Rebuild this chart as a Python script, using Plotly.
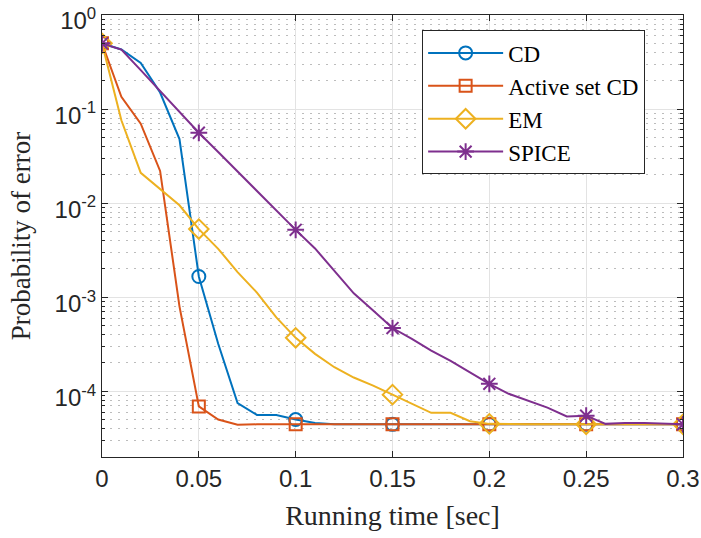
import plotly.graph_objects as go

time_s = [0.00, 0.01, 0.02, 0.03, 0.04, 0.05, 0.06, 0.07, 0.08, 0.09,
          0.10, 0.11, 0.12, 0.13, 0.14, 0.15, 0.16, 0.17, 0.18, 0.19,
          0.20, 0.21, 0.22, 0.23, 0.24, 0.25, 0.26, 0.27, 0.28, 0.29, 0.30]

cd = [0.5, 0.43, 0.31, 0.15, 0.048, 1.66e-3, 3.2e-4, 7.5e-5, 5.6e-5, 5.6e-5,
      5.0e-5, 4.6e-5, 4.45e-5, 4.45e-5, 4.45e-5, 4.45e-5, 4.45e-5, 4.45e-5, 4.45e-5, 4.45e-5,
      4.45e-5, 4.45e-5, 4.45e-5, 4.45e-5, 4.45e-5, 4.45e-5, 4.45e-5, 4.45e-5, 4.45e-5, 4.45e-5, 4.45e-5]

active_cd = [0.5, 0.135, 0.07, 0.022, 8.0e-4, 6.9e-5, 5.0e-5, 4.4e-5, 4.45e-5, 4.45e-5,
             4.45e-5, 4.45e-5, 4.45e-5, 4.45e-5, 4.45e-5, 4.45e-5, 4.45e-5, 4.45e-5, 4.45e-5, 4.45e-5,
             4.45e-5, 4.45e-5, 4.45e-5, 4.45e-5, 4.45e-5, 4.45e-5, 4.45e-5, 4.45e-5, 4.45e-5, 4.45e-5, 4.45e-5]

em = [0.5, 0.076, 0.021, 0.014, 9.5e-3, 5.3e-3, 3.27e-3, 1.85e-3, 1.12e-3, 6.1e-4,
      3.7e-4, 2.5e-4, 1.8e-4, 1.4e-4, 1.15e-4, 9.2e-5, 7.3e-5, 5.9e-5, 5.9e-5, 4.8e-5,
      4.5e-5, 4.45e-5, 4.45e-5, 4.45e-5, 4.45e-5, 4.45e-5, 4.45e-5, 4.45e-5, 4.45e-5, 4.45e-5, 4.45e-5]

spice = [0.5, 0.43, 0.26, 0.155, 0.093, 0.056, 0.035, 0.0216, 0.0135, 8.4e-3,
         5.2e-3, 3.3e-3, 1.9e-3, 1.1e-3, 7.2e-4, 4.7e-4, 3.6e-4, 2.7e-4, 2.1e-4, 1.6e-4,
         1.2e-4, 9.4e-5, 8.0e-5, 6.7e-5, 5.4e-5, 5.5e-5, 4.5e-5, 4.6e-5, 4.6e-5, 4.5e-5, 4.45e-5]

series_names = ["CD", "Active set CD", "EM", "SPICE"]
series_values = [cd, active_cd, em, spice]
colors = ["#0072BD", "#D95319", "#EDB120", "#7E2F8E"]
symbols = ["circle-open", "square-open", "diamond-open", "asterisk-open"]
marker_sizes = [13, 12, 15, 14]
marker_every = 5

x_ticks = [0, 0.05, 0.1, 0.15, 0.2, 0.25, 0.3]
x_tick_labels = ["0", "0.05", "0.1", "0.15", "0.2", "0.25", "0.3"]
y_ticks = [1e-4, 1e-3, 1e-2, 1e-1, 1]
y_tick_labels = ["10<sup>-4</sup>", "10<sup>-3</sup>", "10<sup>-2</sup>", "10<sup>-1</sup>", "10<sup>0</sup>"]
y_minor_ticks = [m * 10.0 ** e for e in range(-5, 0) for m in range(2, 10)]

fig = go.Figure()
for name, vals, c, sym, ms in zip(series_names, series_values, colors, symbols, marker_sizes):
    fig.add_trace(go.Scatter(x=time_s, y=vals, mode="lines", line=dict(color=c, width=2),
                             showlegend=False, hoverinfo="skip"))
    fig.add_trace(go.Scatter(x=time_s[::marker_every], y=vals[::marker_every], mode="markers",
                             marker=dict(symbol=sym, size=ms, color=c, line=dict(color=c, width=2)),
                             showlegend=False))
for name, c, sym, ms in zip(series_names, colors, symbols, marker_sizes):
    fig.add_trace(go.Scatter(x=[None], y=[None], mode="lines+markers", name=name,
                             line=dict(color=c, width=2),
                             marker=dict(symbol=sym, size=ms, color=c, line=dict(color=c, width=2))))

axis_color = "#262626"
fig.update_layout(
    width=701, height=538,
    margin=dict(l=102, r=18, t=15, b=81, autoexpand=False),
    paper_bgcolor="white", plot_bgcolor="white",
    font=dict(family="Liberation Sans, Arial", size=24, color=axis_color),
    showlegend=True,
    legend=dict(x=0.551, y=0.965, xanchor="left", yanchor="top",
                bgcolor="white", bordercolor=axis_color, borderwidth=1,
                font=dict(family="Liberation Serif, Times New Roman", size=23, color="black"),
                tracegroupgap=0, itemwidth=75),
    xaxis=dict(range=[0, 0.3], tickvals=x_ticks, ticktext=x_tick_labels,
               automargin=False,
               showgrid=True, gridcolor="#e3e3e3", gridwidth=1,
               showline=True, linecolor=axis_color, linewidth=1, mirror="ticks",
               ticks="inside", ticklen=6, tickcolor=axis_color,
               zeroline=False,
               title=dict(text="Running time [sec]", standoff=14,
                          font=dict(family="Liberation Serif, Times New Roman", size=28, color=axis_color))),
    yaxis=dict(type="log", range=[-4.699, 0.0005], tickvals=y_ticks, ticktext=y_tick_labels,
               ticklabeloverflow="allow", automargin=False, ticklabelshift=6,
               showgrid=True, gridcolor="#e3e3e3", gridwidth=1,
               showline=True, linecolor=axis_color, linewidth=1, mirror="ticks",
               ticks="inside", ticklen=6, tickcolor=axis_color,
               zeroline=False,
               minor=dict(tickvals=y_minor_ticks, showgrid=True, gridcolor="#bcbcbc",
                          griddash="2px,6px", gridwidth=1,
                          ticks="inside", ticklen=3, tickcolor=axis_color),
               title=dict(text="Probability of error", standoff=16,
                          font=dict(family="Liberation Serif, Times New Roman", size=27, color=axis_color))),
)

fig.write_html("out.html")
